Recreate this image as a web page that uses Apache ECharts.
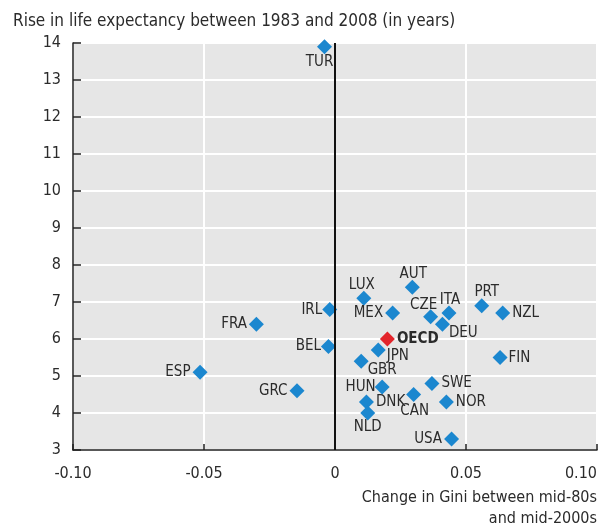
<!DOCTYPE html>
<html>
<head>
<meta charset="utf-8">
<script src="https://cdn.jsdelivr.net/npm/echarts@6/dist/echarts.min.js"></script>
<style>
  html, body { margin: 0; padding: 0; background: #fff; }
  #chart { width: 604px; height: 529px; }
</style>
</head>
<body>
<div id="chart"></div>
<script>
// country codes, change in Gini (mid-80s to mid-2000s), rise in life expectancy 1983-2008
const countries = ['TUR', 'LUX', 'AUT', 'PRT', 'NZL', 'ITA', 'CZE', 'DEU', 'MEX', 'IRL', 'FRA', 'BEL',
    'JPN', 'GBR', 'FIN', 'ESP', 'GRC', 'HUN', 'SWE', 'CAN', 'DNK', 'NOR', 'NLD', 'USA'];
const giniChange = [-0.004, 0.011, 0.0295, 0.056, 0.064, 0.0435, 0.0365, 0.041, 0.022, -0.002, -0.030, -0.0025,
    0.0165, 0.010, 0.063, -0.0515, -0.0145, 0.018, 0.037, 0.030, 0.012, 0.0425, 0.0125, 0.0445];
const lifeGain = [13.9, 7.1, 7.4, 6.9, 6.7, 6.7, 6.6, 6.4, 6.7, 6.8, 6.4, 5.8,
    5.7, 5.4, 5.5, 5.1, 4.6, 4.7, 4.8, 4.5, 4.3, 4.3, 4.0, 3.3];
const oecdName = 'OECD';
const oecdGini = 0.020;
const oecdLife = 6.0;
const xTicks = [-0.10, -0.05, 0, 0.05, 0.10];
const xTitleLines = ['Change in Gini between mid-80s', 'and mid-2000s'];

const fontFam = '"Liberation Sans Narrow", "DejaVu Sans Condensed", "Liberation Sans", sans-serif';

// where each country's label sits around its marker
const labelPlace = {
    TUR: {position: 'bottom', offset: [-5, -2]},
    LUX: {position: 'top', offset: [-2, 4]},
    AUT: {position: 'top', offset: [1, 4]},
    PRT: {position: 'top', offset: [5, 3]},
    NZL: {position: 'right'},
    ITA: {position: 'top', offset: [1, 4]},
    CZE: {position: 'top', offset: [-7, 5]},
    DEU: {position: 'right', offset: [-3, 9]},
    MEX: {position: 'left'},
    IRL: {position: 'left', offset: [2, 1]},
    FRA: {position: 'left'},
    BEL: {position: 'left', offset: [2, 0]},
    JPN: {position: 'right', offset: [-1, 6]},
    GBR: {position: 'bottom', offset: [21, -8]},
    FIN: {position: 'right', offset: [-1, 1]},
    ESP: {position: 'left'},
    GRC: {position: 'left'},
    HUN: {position: 'left', offset: [3, 0]},
    SWE: {position: 'right'},
    CAN: {position: 'bottom', offset: [1, 0]},
    DNK: {position: 'right'},
    NOR: {position: 'right'},
    NLD: {position: 'bottom', offset: [0, -3]},
    USA: {position: 'left'}
};

let myChart = echarts.init(document.getElementById('chart'));

let pts = [];
for (let i = 0; i < countries.length; i++) {
    let lp = labelPlace[countries[i]] || {position: 'right'};
    pts.push({
        name: countries[i],
        value: [giniChange[i], lifeGain[i]],
        label: {position: lp.position, offset: lp.offset || [0, 0]}
    });
}

let titleGraphics = xTitleLines.map(function (line, i) {
    return {
        type: 'text',
        right: 7,
        top: 490 + i * 21,
        style: {text: line, fontFamily: fontFam, fontSize: 16, fill: '#2b2b2b'}
    };
});

let option = {
    animation: false,
    textStyle: {fontFamily: fontFam},
    title: {
        text: 'Rise in life expectancy between 1983 and 2008 (in years)',
        left: 8,
        top: 8,
        textStyle: {fontFamily: fontFam, fontSize: 17, fontWeight: 'normal', color: '#2b2b2b'}
    },
    graphic: titleGraphics,
    grid: {
        left: 73,
        right: 7,
        top: 43,
        bottom: 79,
        containLabel: false,
        outerBoundsMode: 'none',
        show: true,
        backgroundColor: '#e6e6e6',
        borderWidth: 0
    },
    xAxis: {
        type: 'value',
        min: -0.10,
        max: 0.10,
        interval: 0.05,
        axisLine: {show: true, onZero: false, lineStyle: {color: '#222', width: 1.5}},
        axisTick: {show: true, inside: true, length: 6, lineStyle: {color: '#222', width: 1.5}},
        axisLabel: {
            fontFamily: fontFam, fontSize: 16, color: '#2b2b2b', margin: 16,
            alignMaxLabel: 'right',
            formatter: function (v) {
                let t = xTicks.find(function (k) { return Math.abs(k - v) < 1e-9; });
                if (t === 0) return '0';
                return (t < 0 ? '-' : '') + Math.abs(t).toFixed(2);
            }
        },
        splitLine: {show: true, lineStyle: {color: '#ffffff', width: 2}}
    },
    yAxis: {
        type: 'value',
        min: 3,
        max: 14,
        interval: 1,
        axisLine: {show: true, onZero: false, lineStyle: {color: '#222', width: 1.5}},
        axisTick: {show: true, inside: true, length: 8, lineStyle: {color: '#222', width: 1.5}},
        axisLabel: {fontFamily: fontFam, fontSize: 16, color: '#2b2b2b', margin: 12},
        splitLine: {show: true, lineStyle: {color: '#ffffff', width: 2}}
    },
    series: [
        {
            name: 'countries',
            type: 'scatter',
            symbol: 'diamond',
            symbolSize: 15,
            itemStyle: {color: '#1b87cf', opacity: 1},
            label: {
                show: true,
                formatter: '{b}',
                fontFamily: fontFam,
                fontSize: 15,
                color: '#2b2b2b',
                distance: 2
            },
            data: pts,
            markLine: {
                silent: true,
                symbol: 'none',
                label: {show: false},
                lineStyle: {color: '#111', width: 2, type: 'solid', opacity: 1},
                data: [{xAxis: 0}]
            },
            z: 3
        },
        {
            name: oecdName,
            type: 'scatter',
            symbol: 'diamond',
            symbolSize: 15,
            itemStyle: {color: '#e3242b', opacity: 1},
            label: {
                show: true,
                position: 'right',
                formatter: '{b}',
                fontFamily: fontFam,
                fontSize: 15,
                fontWeight: 'bold',
                color: '#2b2b2b',
                distance: 2
            },
            data: [{name: oecdName, value: [oecdGini, oecdLife]}],
            z: 4
        }
    ]
};

myChart.setOption(option);
</script>
</body>
</html>
